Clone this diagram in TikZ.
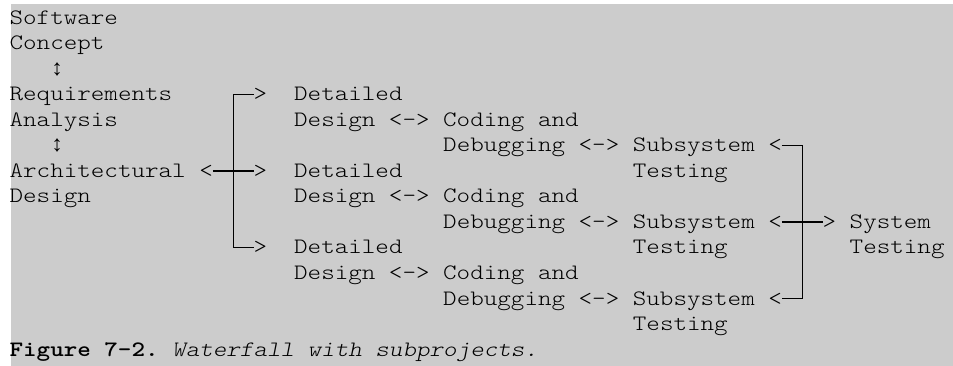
\documentclass[tikz,border=0pt]{standalone}
\usepackage{fontspec}
\setmonofont{lmmonolt10-regular.otf}[FakeStretch=1.1732, BoldFont=lmmonolt10-bold.otf, ItalicFont=lmmonolt10-oblique.otf]
\newfontfamily\arrowfont{Liberation Mono}
\definecolor{pagebg}{RGB}{204,204,204}
\tikzset{
  txt/.style={anchor=base west, inner sep=0pt, outer sep=0pt, font=\ttfamily\fontsize{22}{25.5}\selectfont, text=black},
  boxline/.style={draw=black, line width=1.3pt, line join=miter, line cap=butt},
}
\begin{document}
\begin{tikzpicture}[x=1pt,y=1pt]
\useasboundingbox (0,0) rectangle (953,-366);
\fill[white] (0,0) rectangle (953,-366);
\fill[pagebg] (11,-4) rectangle (953,-366);
\begin{scope}[shift={(9.6pt,-24.5pt)}, x=13.55pt, y=-25.5pt]
% left column
\node[txt] (sw) at (0,0) {Software};
\node[txt] (sc) at (0,1) {Concept};
\node[txt] (ud1) at (3,2) {\arrowfont\fontsize{22.58}{25.5}\selectfont ↕};
\node[txt] (ra) at (0,3) {Requirements};
\node[txt] (rb) at (0,4) {Analysis};
\node[txt] (ud2) at (3,5) {\arrowfont\fontsize{22.58}{25.5}\selectfont ↕};
\node[txt] (aa) at (0,6) {Architectural};
\node[txt] (ab) at (0,7) {Design};
% fan-out arrows
\node[txt] (gt3) at (18,3) {>};
\node[txt] (lt6) at (14,6) {<};
\node[txt] (gt6) at (18,6) {>};
\node[txt] (gt9) at (18,9) {>};
% subproject 1
\node[txt] (d1a) at (21,3) {Detailed};
\node[txt] (d1b) at (21,4) {Design <-> Coding and};
\node[txt] (c1) at (32,5) {Debugging <-> Subsystem};
\node[txt] (t1) at (46,6) {Testing};
% subproject 2
\node[txt] (d2a) at (21,6) {Detailed};
\node[txt] (d2b) at (21,7) {Design <-> Coding and};
\node[txt] (c2) at (32,8) {Debugging <-> Subsystem};
\node[txt] (t2) at (46,9) {Testing};
% subproject 3
\node[txt] (d3a) at (21,9) {Detailed};
\node[txt] (d3b) at (21,10) {Design <-> Coding and};
\node[txt] (c3) at (32,11) {Debugging <-> Subsystem};
\node[txt] (t3) at (46,12) {Testing};
% fan-in arrows
\node[txt] (lt5) at (56,5) {<};
\node[txt] (lt8) at (56,8) {<};
\node[txt] (gt8) at (60,8) {>};
\node[txt] (lt11) at (56,11) {<};
% system testing
\node[txt] (st1) at (62,8) {System};
\node[txt] (st2) at (62,9) {Testing};
% caption
\node[txt] (cap) at (0,13) {\bfseries Figure 7-2.\mdseries\ \itshape Waterfall with subprojects.};
% junctions
\coordinate (L3) at (16.5,2.745);
\coordinate (L6) at (16.5,5.745);
\coordinate (L9) at (16.5,8.745);
\coordinate (R5) at (58.5,4.745);
\coordinate (R8) at (58.5,7.745);
\coordinate (R11) at (58.5,10.745);
% connectors
\draw[boxline] (gt3.west |- L3) -- (L3) -- (L9) -- (gt9.west |- L9);
\draw[boxline] (lt6.east |- L6) -- (gt6.west |- L6);
\draw[boxline] (lt5.east |- R5) -- (R5) -- (R11) -- (lt11.east |- R11);
\draw[boxline] (lt8.east |- R8) -- (gt8.west |- R8);
\end{scope}
\end{tikzpicture}
\end{document}
